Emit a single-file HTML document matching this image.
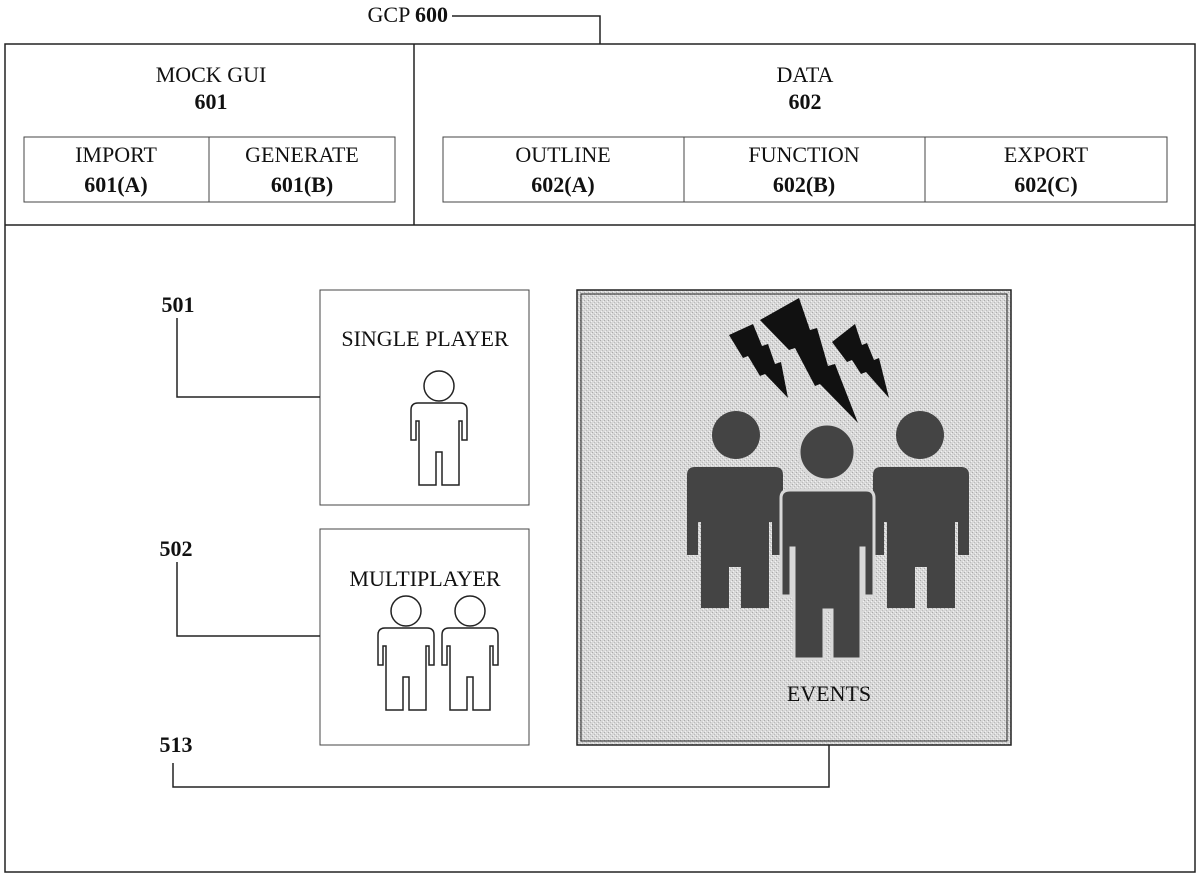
<!DOCTYPE html>
<html><head><meta charset="utf-8"><style>
html,body{margin:0;padding:0;background:#fff;}
svg{display:block;font-family:"Liberation Serif",serif;}
</style></head><body>
<svg width="1200" height="876" viewBox="0 0 1200 876" xmlns="http://www.w3.org/2000/svg">
<defs>
<pattern id="noise" width="4" height="4" patternUnits="userSpaceOnUse">
<rect width="4" height="4" fill="#d8d8d8"/>
<rect x="0" y="0" width="1" height="1" fill="#aaa"/>
<rect x="2" y="2" width="1" height="1" fill="#bbb"/>
<rect x="3" y="1" width="1" height="1" fill="#f2f2f2"/>
<rect x="1" y="3" width="1" height="1" fill="#f0f0f0"/>
</pattern>
<g id="pout">
<circle cx="0" cy="-17" r="15" fill="none" stroke="#222" stroke-width="1.5"/>
<path d="M-21,0 H21 Q28,0 28,7 V37 H23 V18 H20 V82 H3 V49 H-3 V82 H-20 V18 H-23 V37 H-28 V7 Q-28,0 -21,0 Z" fill="#fff" stroke="#222" stroke-width="1.5"/>
</g>
<g id="pfill">
<path d="M-40,0 H40 Q48,0 48,8 V88 H37 V55 H34 V141 H6 V100 H-6 V141 H-34 V55 H-37 V88 H-48 V8 Q-48,0 -40,0 Z"/>
</g>
</defs>
<g fill="none" stroke="#222" stroke-width="1.5">
<rect x="5" y="44" width="1190" height="828"/>
<line x1="5" y1="225" x2="1195" y2="225"/>
<line x1="414" y1="44" x2="414" y2="225"/>
<polyline points="452,16 600,16 600,44"/>
</g>
<g fill="none" stroke="#444" stroke-width="1">
<rect x="24" y="137" width="371" height="65"/>
<line x1="209" y1="137" x2="209" y2="202"/>
<rect x="443" y="137" width="724" height="65"/>
<line x1="684" y1="137" x2="684" y2="202"/>
<line x1="925" y1="137" x2="925" y2="202"/>
<rect x="320" y="290" width="209" height="215"/>
<rect x="320" y="529" width="209" height="216"/>
</g>
<g fill="none" stroke="#222" stroke-width="1.5">
<polyline points="177,318 177,397 320,397"/>
<polyline points="177,562 177,636 320,636"/>
<polyline points="173,763 173,787 829,787 829,745"/>
</g>
<use href="#pout" x="439" y="403"/>
<use href="#pout" x="406" y="628"/>
<use href="#pout" x="470" y="628"/>
<rect x="577" y="290" width="434" height="455" fill="url(#noise)" stroke="#222" stroke-width="1.5"/>
<rect x="581" y="294" width="426" height="447" fill="none" stroke="#222" stroke-width="1"/>
<g fill="#444">
<circle cx="736" cy="435" r="24"/>
<circle cx="920" cy="435" r="24"/>
<use href="#pfill" x="735" y="467"/>
<use href="#pfill" x="921" y="467"/>
</g>
<g fill="#444" stroke="#d8d8d8" stroke-width="3">
<circle cx="827" cy="452" r="28"/>
<path d="M790,490 H866 Q874,490 874,498 V596 H864 V548 H861 V659 H832 V610 H824 V659 H794 V548 H791 V596 H781 V498 Q781,490 790,490 Z"/>
</g>
<g fill="#111">
<polygon points="729,335 753,324 762,346 768,344 775,364 781,362 788,398 765,374 760,376 748,356 743,358"/>
<polygon points="760,320 799,298 810,330 817,328 828,366 835,364 858,423 820,384 815,386 795,348 789,350"/>
<polygon points="832,342 855,324 862,345 867,343 874,360 879,358 889,398 866,372 861,374 852,360 847,362"/>
</g>
<g font-size="22" fill="#111" text-anchor="middle">
<text x="448" y="22" text-anchor="end">GCP <tspan font-weight="bold">600</tspan></text>
<text x="211" y="82">MOCK GUI</text>
<text x="211" y="109" font-weight="bold">601</text>
<text x="805" y="82">DATA</text>
<text x="805" y="109" font-weight="bold">602</text>
<text x="116" y="162">IMPORT</text>
<text x="116" y="192" font-weight="bold">601(A)</text>
<text x="302" y="162">GENERATE</text>
<text x="302" y="192" font-weight="bold">601(B)</text>
<text x="563" y="162">OUTLINE</text>
<text x="563" y="192" font-weight="bold">602(A)</text>
<text x="804" y="162">FUNCTION</text>
<text x="804" y="192" font-weight="bold">602(B)</text>
<text x="1046" y="162">EXPORT</text>
<text x="1046" y="192" font-weight="bold">602(C)</text>
<text x="425" y="346">SINGLE PLAYER</text>
<text x="425" y="586">MULTIPLAYER</text>
<text x="829" y="701">EVENTS</text>
<text x="178" y="312" font-weight="bold">501</text>
<text x="176" y="556" font-weight="bold">502</text>
<text x="176" y="752" font-weight="bold">513</text>
</g>
</svg>
</body></html>
